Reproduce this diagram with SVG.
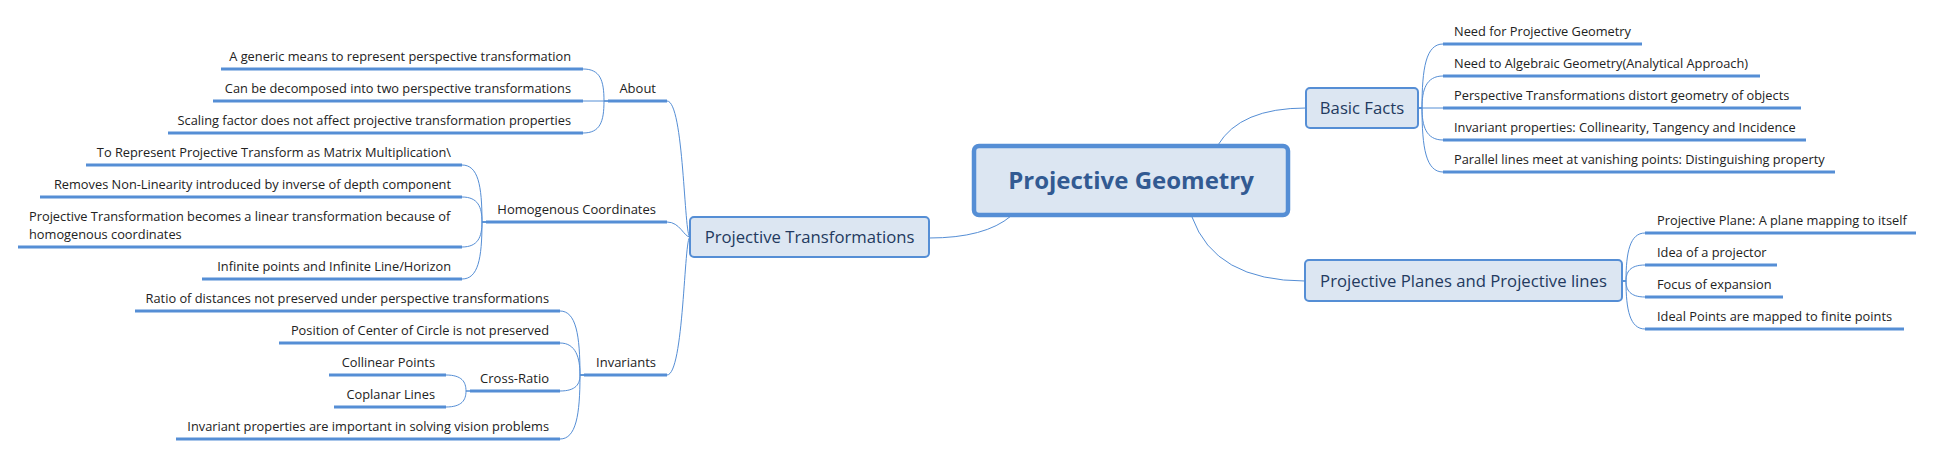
<svg xmlns="http://www.w3.org/2000/svg" width="1934" height="456" viewBox="0 0 1934 456">
<style>
  .leaf { font-family: "Open Sans", "Noto Sans", sans-serif; font-size: 12.8px; fill: #222222; }
  .l1 { font-family: "Open Sans", "Noto Sans", sans-serif; font-size: 13px; fill: #222222; }
  .sub { font-family: "Open Sans", "Noto Sans", sans-serif; font-size: 16.7px; fill: #233a5f; }
  .main { font-family: "Open Sans", "Noto Sans", sans-serif; font-size: 24px; font-weight: bold; fill: #325a92; }
  .ul { stroke: #558ed5; stroke-width: 3; fill: none; }
  .con { stroke: #558ed5; stroke-width: 1; fill: none; }
  .box { fill: #dce6f2; stroke: #558ed5; stroke-width: 2; }
  .mbox { fill: #dce6f2; stroke: #558ed5; stroke-width: 4.5; }
</style>
<rect width="1934" height="456" fill="#ffffff"/>

<g id="connectors">
  <path class="con" d="M 1011 216 Q 985 238 929 238"/>
  <path class="con" d="M 1218 145 Q 1240 108 1306 108"/>
  <path class="con" d="M 1192 217 Q 1215 281 1305 281"/>
  <path class="con" d="M 690 237 C 684 237 684 101 667 101"/>
  <path class="con" d="M 690 237 C 684 237 680 222 667 222"/>
  <path class="con" d="M 690 237 C 684 237 684 375 667 375"/>
  <path class="con" d="M 608 101 L 604 101 C 604 80 600 69 583 69"/>
  <path class="con" d="M 608 101 L 583 101"/>
  <path class="con" d="M 608 101 L 604 101 C 604 122 600 133 583 133"/>
  <path class="con" d="M 486 222 L 482 222 C 482 185 478 165 462 165"/>
  <path class="con" d="M 486 222 L 482 222 C 482 207 478 197 462 197"/>
  <path class="con" d="M 486 222 L 482 222 C 482 237 478 247 462 247"/>
  <path class="con" d="M 486 222 L 482 222 C 482 259 478 279 462 279"/>
  <path class="con" d="M 584 375 L 580 375 C 580 335 576 311 560 311"/>
  <path class="con" d="M 584 375 L 580 375 C 580 358 576 343 560 343"/>
  <path class="con" d="M 584 375 L 580 375 C 580 384 576 391 560 391"/>
  <path class="con" d="M 584 375 L 580 375 C 580 415 576 439 560 439"/>
  <path class="con" d="M 470 391 L 466 391 C 466 382 462 375 446 375"/>
  <path class="con" d="M 470 391 L 466 391 C 466 400 462 407 446 407"/>
  <path class="con" d="M 1418 108 L 1422 108 C 1422 68 1426 44 1443 44"/>
  <path class="con" d="M 1418 108 L 1422 108 C 1422 90 1426 76 1443 76"/>
  <path class="con" d="M 1418 108 L 1443 108"/>
  <path class="con" d="M 1418 108 L 1422 108 C 1422 126 1426 140 1443 140"/>
  <path class="con" d="M 1418 108 L 1422 108 C 1422 148 1426 172 1443 172"/>
  <path class="con" d="M 1622 281 L 1626 281 C 1626 252 1630 233 1645 233"/>
  <path class="con" d="M 1622 281 L 1626 281 C 1626 272 1630 265 1645 265"/>
  <path class="con" d="M 1622 281 L 1626 281 C 1626 290 1630 297 1645 297"/>
  <path class="con" d="M 1622 281 L 1626 281 C 1626 310 1630 329 1645 329"/>
</g>

<g id="central">
  <rect class="mbox" x="974" y="146" width="314" height="69" rx="5"/>
  <text class="main" x="1131" y="189" text-anchor="middle">Projective Geometry</text>
</g>

<g id="projective-transformations">
  <rect class="box" x="690" y="217" width="239" height="40" rx="4"/>
  <text class="sub" x="809.5" y="243" text-anchor="middle">Projective Transformations</text>
</g>
<g id="basic-facts">
  <rect class="box" x="1306" y="88" width="112" height="40" rx="4"/>
  <text class="sub" x="1362" y="114" text-anchor="middle">Basic Facts</text>
</g>
<g id="projective-planes">
  <rect class="box" x="1305" y="260" width="317" height="41" rx="4"/>
  <text class="sub" x="1463.5" y="286.5" text-anchor="middle">Projective Planes and Projective lines</text>
</g>

<g id="about">
  <line class="ul" x1="608" y1="101" x2="667" y2="101"/>
  <text class="l1" x="656" y="93" text-anchor="end">About</text>
</g>
<g id="about-1">
  <line class="ul" x1="221" y1="69" x2="583" y2="69"/>
  <text class="leaf" x="571" y="61" text-anchor="end">A generic means to represent perspective transformation</text>
</g>
<g id="about-2">
  <line class="ul" x1="213" y1="101" x2="583" y2="101"/>
  <text class="leaf" x="571" y="93" text-anchor="end">Can be decomposed into two perspective transformations</text>
</g>
<g id="about-3">
  <line class="ul" x1="168" y1="133" x2="583" y2="133"/>
  <text class="leaf" x="571" y="125" text-anchor="end">Scaling factor does not affect projective transformation properties</text>
</g>

<g id="homogenous">
  <line class="ul" x1="486" y1="222" x2="667" y2="222"/>
  <text class="l1" x="656" y="214" text-anchor="end">Homogenous Coordinates</text>
</g>
<g id="homog-1">
  <line class="ul" x1="86" y1="165" x2="462" y2="165"/>
  <text class="leaf" x="451" y="157" text-anchor="end">To Represent Projective Transform as Matrix Multiplication\</text>
</g>
<g id="homog-2">
  <line class="ul" x1="40" y1="197" x2="462" y2="197"/>
  <text class="leaf" x="451" y="189" text-anchor="end">Removes Non-Linearity introduced by inverse of depth component</text>
</g>
<g id="homog-3">
  <line class="ul" x1="18" y1="247" x2="462" y2="247"/>
  <text class="leaf" x="29" y="221">Projective Transformation becomes a linear transformation because of</text>
  <text class="leaf" x="29" y="239">homogenous coordinates</text>
</g>
<g id="homog-4">
  <line class="ul" x1="202" y1="279" x2="462" y2="279"/>
  <text class="leaf" x="451" y="271" text-anchor="end">Infinite points and Infinite Line/Horizon</text>
</g>

<g id="invariants">
  <line class="ul" x1="584" y1="375" x2="667" y2="375"/>
  <text class="l1" x="656" y="367" text-anchor="end">Invariants</text>
</g>
<g id="inv-1">
  <line class="ul" x1="135" y1="311" x2="560" y2="311"/>
  <text class="leaf" x="549" y="303" text-anchor="end">Ratio of distances not preserved under perspective transformations</text>
</g>
<g id="inv-2">
  <line class="ul" x1="279" y1="343" x2="560" y2="343"/>
  <text class="leaf" x="549" y="335" text-anchor="end">Position of Center of Circle is not preserved</text>
</g>
<g id="cross-ratio">
  <line class="ul" x1="470" y1="391" x2="560" y2="391"/>
  <text class="l1" x="549" y="383" text-anchor="end">Cross-Ratio</text>
</g>
<g id="cr-1">
  <line class="ul" x1="329" y1="375" x2="446" y2="375"/>
  <text class="leaf" x="435" y="367" text-anchor="end">Collinear Points</text>
</g>
<g id="cr-2">
  <line class="ul" x1="334" y1="407" x2="446" y2="407"/>
  <text class="leaf" x="435" y="399" text-anchor="end">Coplanar Lines</text>
</g>
<g id="inv-4">
  <line class="ul" x1="176" y1="439" x2="560" y2="439"/>
  <text class="leaf" x="549" y="431" text-anchor="end">Invariant properties are important in solving vision problems</text>
</g>

<g id="bf-1">
  <line class="ul" x1="1443" y1="44" x2="1642" y2="44"/>
  <text class="leaf" x="1454" y="36">Need for Projective Geometry</text>
</g>
<g id="bf-2">
  <line class="ul" x1="1443" y1="76" x2="1760" y2="76"/>
  <text class="leaf" x="1454" y="68">Need to Algebraic Geometry(Analytical Approach)</text>
</g>
<g id="bf-3">
  <line class="ul" x1="1443" y1="108" x2="1801" y2="108"/>
  <text class="leaf" x="1454" y="100">Perspective Transformations distort geometry of objects</text>
</g>
<g id="bf-4">
  <line class="ul" x1="1443" y1="140" x2="1806" y2="140"/>
  <text class="leaf" x="1454" y="132">Invariant properties: Collinearity, Tangency and Incidence</text>
</g>
<g id="bf-5">
  <line class="ul" x1="1443" y1="172" x2="1835" y2="172"/>
  <text class="leaf" x="1454" y="164">Parallel lines meet at vanishing points: Distinguishing property</text>
</g>

<g id="pp-1">
  <line class="ul" x1="1645" y1="233" x2="1916" y2="233"/>
  <text class="leaf" x="1657" y="225">Projective Plane: A plane mapping to itself</text>
</g>
<g id="pp-2">
  <line class="ul" x1="1645" y1="265" x2="1777" y2="265"/>
  <text class="leaf" x="1657" y="257">Idea of a projector</text>
</g>
<g id="pp-3">
  <line class="ul" x1="1645" y1="297" x2="1783" y2="297"/>
  <text class="leaf" x="1657" y="289">Focus of expansion</text>
</g>
<g id="pp-4">
  <line class="ul" x1="1645" y1="329" x2="1904" y2="329"/>
  <text class="leaf" x="1657" y="321">Ideal Points are mapped to finite points</text>
</g>
</svg>
